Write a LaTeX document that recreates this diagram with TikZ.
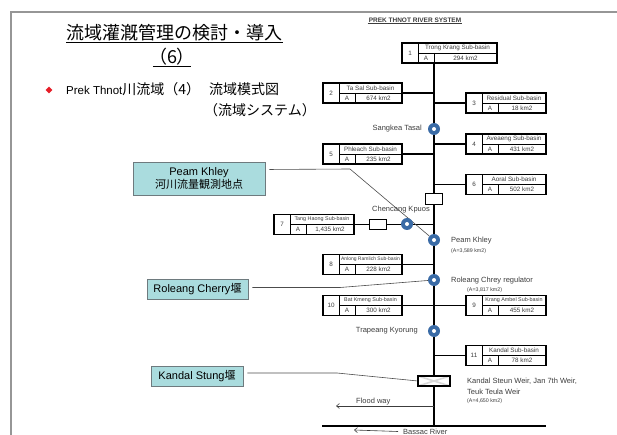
\documentclass[tikz,border=0pt]{standalone}
\usepackage{fontspec}
\setmainfont{Liberation Sans}
\newfontfamily\cjk{Noto Sans CJK JP}
\usetikzlibrary{arrows.meta,calc,backgrounds,shapes.geometric}
\definecolor{tealfill}{RGB}{170,220,222}
\definecolor{tealedge}{RGB}{110,122,126}
\definecolor{stnblue}{RGB}{58,107,166}
\definecolor{framegray}{RGB}{150,150,150}
\definecolor{txtgray}{RGB}{60,60,60}
\definecolor{bulletred}{RGB}{230,30,40}
\tikzset{
  sbb/.style={draw, line width=1.4pt, minimum width=#1, minimum height=20pt, inner sep=0pt, outer sep=0pt, fill=white},
  cellline/.style={line width=0.9pt},
  boxtxt/.style={inner sep=0pt, text=txtgray, font=\fontsize{6.3}{7}\selectfont},
  riv/.style={line width=1.8pt},
  stn/.style={circle, fill=stnblue, minimum size=12pt, inner sep=0pt,
    path picture={\fill[white] (path picture bounding box.center) circle (2pt);}},
  gatebox/.style={draw, fill=white, line width=1pt, minimum width=17pt, minimum height=11pt, inner sep=0pt, outer sep=0pt},
  weirbox/.style={draw, fill=white, line width=1.6pt, minimum width=32pt, minimum height=10pt, inner sep=0pt, outer sep=0pt,
    path picture={\draw[gray!30] (path picture bounding box.north west) -- (path picture bounding box.south east)
      (path picture bounding box.south west) -- (path picture bounding box.north east);}},
  stlabel/.style={inner sep=0pt, text=txtgray, font=\fontsize{7.5}{9}\selectfont},
  smalllabel/.style={inner sep=0pt, text=txtgray, font=\fontsize{5.3}{6}\selectfont},
  callbox/.style={draw=tealedge, fill=tealfill, line width=0.9pt, inner sep=0pt, align=center, font=\fontsize{11}{13}\selectfont},
  callline/.style={draw=black!70, line width=0.6pt, shorten <=4pt},
  thinarrow/.style={draw=txtgray, line width=0.6pt, -{Straight Barb[length=3pt,width=5pt]}},
  uline/.style={line width=0.8pt}
}
\newcommand{\subbasin}[6]{%
  \node[sbb=#3] (#1) at (#2) {};
  \draw[cellline] ([xshift=16pt]#1.north west) -- ([xshift=16pt]#1.south west);
  \draw[cellline] ([xshift=16pt]#1.west) -- (#1.east);
  \draw[cellline] ([xshift=32pt]#1.west) -- ([xshift=32pt]#1.south west);
  \node[boxtxt] at ($(#1.north west)!0.5!([xshift=16pt]#1.south west)$) {#4};
  \node[boxtxt] at ($([xshift=16pt]#1.west)!0.5!(#1.north east)$) {#5};
  \node[boxtxt] at ($([xshift=16pt]#1.west)!0.5!([xshift=32pt]#1.south west)$) {A};
  \node[boxtxt] at ($([xshift=32pt]#1.west)!0.5!(#1.south east)$) {#6};
}
\begin{document}
\begin{tikzpicture}[x=1pt,y=-1pt]
\useasboundingbox (0,0) rectangle (617,435);
% frame
\coordinate (fc) at (11,12);
\coordinate (fr) at (617,12);
\coordinate (fb) at (11,435);
\draw[framegray, line width=1.5pt] (fb) -- (fc) -- (fr);

% titles
\node[inner sep=0pt, font=\cjk\fontsize{18}{22}\selectfont] (t1) at (174.5,33) {流域灌漑管理の検討・導入};
\draw[uline] ([yshift=-1pt]t1.south west) -- ([yshift=-1pt]t1.south east);
\node[inner sep=0pt, font=\cjk\fontsize{18}{22}\selectfont] (t2) at (172,57) {（6）};
\draw[uline] ([yshift=-1pt,xshift=4pt]t2.south west) -- ([yshift=-1pt,xshift=-4pt]t2.south east);
\node[diamond, fill=bulletred, minimum size=7pt, inner sep=0pt] (bul) at (49,90) {};
\node[anchor=west, inner sep=0pt] (bt) at (66,89) {\fontsize{11.5}{13}\selectfont Prek Thnot{\cjk\fontsize{14}{16}\selectfont 川流域（4）\hspace{9pt}流域模式図}};
\node[anchor=east, inner sep=0pt] (bt2) at (316,110) {\cjk\fontsize{14}{16}\selectfont （流域システム）};

% heading
\node[inner sep=1pt, font=\bfseries\fontsize{6.5}{8}\selectfont, text=txtgray] (hd) at (415,20) {PREK THNOT RIVER SYSTEM};
\draw[line width=0.5pt, txtgray] (hd.south west) -- (hd.south east);

% sub-basins
\subbasin{b1}{449.5,53}{95pt}{1}{Trong Krang Sub-basin}{294 km2}
\subbasin{b2}{362.5,93}{79pt}{2}{Ta Sal Sub-basin}{674 km2}
\subbasin{b3}{506,103}{80pt}{3}{Residual Sub-basin}{18 km2}
\subbasin{b4}{506,144}{80pt}{4}{Aveaeng Sub-basin}{431 km2}
\subbasin{b5}{362.5,154}{79pt}{5}{Phleach Sub-basin}{235 km2}
\subbasin{b6}{506,184.5}{80pt}{6}{Aoral Sub-basin}{502 km2}
\subbasin{b7}{314,224.5}{80pt}{7}{\fontsize{5.4}{6}\selectfont Tang Haong Sub-basin}{1,435 km2}
\subbasin{b8}{362.5,264.5}{79pt}{8}{\fontsize{5}{6}\selectfont Anlong Ramlich Sub-basin}{228 km2}
\subbasin{b10}{362.5,305.5}{79pt}{10}{\fontsize{5.4}{6}\selectfont Bat Kmeng Sub-basin}{300 km2}
\subbasin{b9}{506,305.5}{80pt}{9}{\fontsize{5.4}{6}\selectfont Krang Ambel Sub-basin}{455 km2}
\subbasin{b11}{506,355.5}{80pt}{11}{Kandal Sub-basin}{78 km2}

% stations and structures
\node[stn] (sangkea) at (434,129) {};
\node[gatebox] (gate1) at (433.5,199.5) {};
\node[stn] (chencang) at (407,224) {};
\node[gatebox, minimum height=10pt] (gate2) at (377.5,225) {};
\node[stn] (peam) at (434,240) {};
\node[stn] (roleang) at (434,280) {};
\node[stn] (trapeang) at (434,331) {};
\node[weirbox] (weir) at (434,381) {};

\coordinate (rbot) at (434,426);
\coordinate (bl) at (322,426);
\coordinate (br) at (546,426);
\coordinate (fw) at (434,406);
\coordinate (fwend) at (336,406);
\coordinate (pkv) at (350,169);
\coordinate (rcv) at (340,287.5);
\coordinate (ksv) at (337,373);
\coordinate (ba2) at (354,430);

\begin{scope}[on background layer]
  \draw[riv] (b1.south -| sangkea) -- (rbot);
  \draw[riv] (bl) -- (br);
  \draw[riv] (b2.east) -- (b2.east -| sangkea);
  \draw[riv] (b3.west) -- (b3.west -| sangkea);
  \draw[riv] (b4.west) -- (b4.west -| sangkea);
  \draw[riv] (b5.east) -- (b5.east -| sangkea);
  \draw[riv] (b6.west) -- (b6.west -| sangkea);
  \draw[riv] (b7.east) -- (b7.east -| sangkea);
  \draw[riv] (b8.east) -- (b8.east -| sangkea);
  \draw[riv] (b10.east) -- (b10.east -| sangkea);
  \draw[riv] (b9.west) -- (b9.west -| sangkea);
  \draw[riv] (b11.west) -- (b11.west -| sangkea);
\end{scope}

% labels
\node[stlabel, anchor=east] (sangkeaL) at (422,129) {Sangkea Tasal};
\node[stlabel] (chencangL) at (401,210) {Chencang Kpuos};
\node[stlabel, anchor=west] (peamL) at (451,241) {Peam Khley};
\node[smalllabel, anchor=west] (peamA) at (451,251) {(A=3,589 km2)};
\node[stlabel, anchor=west] (roleangL) at (451,281) {Roleang Chrey regulator};
\node[smalllabel, anchor=west] (roleangA) at (467,290) {(A=3,817 km2)};
\node[stlabel, anchor=east] (trapeangL) at (418,331) {Trapeang Kyorung};
\node[stlabel, anchor=west] (weirL1) at (467,381) {Kandal Steun Weir, Jan 7th Weir,};
\node[stlabel, anchor=west] (weirL2) at (467,392) {Teuk Teula Weir};
\node[smalllabel, anchor=west] (weirA) at (467,401) {(A=4,650 km2)};
\node[stlabel, anchor=west] (fwL) at (356,402) {Flood way};
\node[stlabel, anchor=west] (bassac) at (403,431.5) {Bassac River};

% arrows
\draw[thinarrow] (fw) -- (fwend);
\draw[thinarrow] ([xshift=-5pt]bassac.west) -- (ba2);

% callouts
\node[callbox, minimum width=132pt, minimum height=33pt] (pk) at (199,178.5) {Peam Khley\\{\cjk 河川流量観測地点}};
\node[callbox, minimum width=101pt, minimum height=20pt] (rc) at (197.5,289) {Roleang Cherry{\cjk 堰}};
\node[callbox, minimum width=92pt, minimum height=20pt] (ks) at (197,376) {Kandal Stung{\cjk 堰}};

\begin{scope}[on background layer]
  \draw[callline] ([yshift=9pt]pk.east) -- (pkv) -- (peam);
  \draw[callline] ([yshift=1.5pt]rc.east) -- (rcv) -- (roleang);
  \draw[callline] ([yshift=3pt]ks.east) -- (ksv) -- (weir.west);
\end{scope}
\end{tikzpicture}
\end{document}
